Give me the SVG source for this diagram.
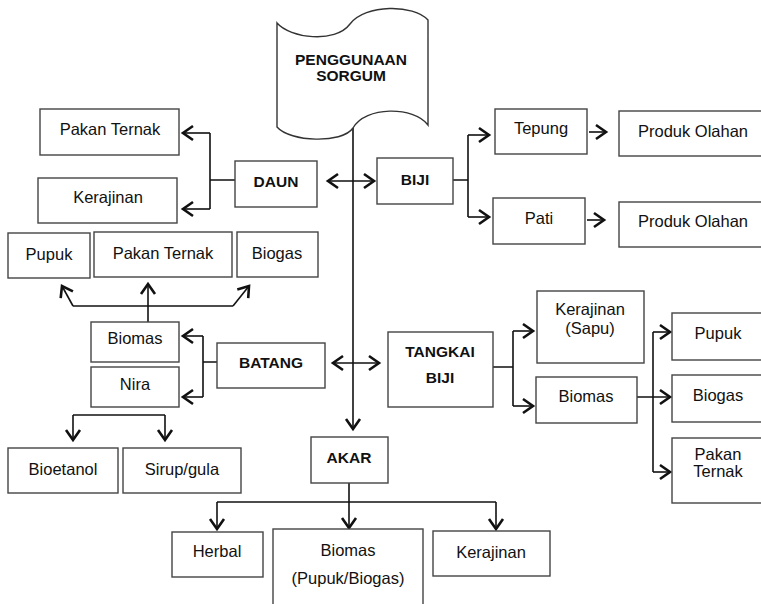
<svg xmlns="http://www.w3.org/2000/svg" width="761" height="604" viewBox="0 0 761 604">
<defs>
<style>
.box{fill:#fff;stroke:#444;stroke-width:1.4}
.t{font-family:"Liberation Sans",Arial,sans-serif;font-size:16.5px;fill:#111;text-anchor:middle}
.b{font-weight:bold;font-size:15.5px}
.ln{fill:none;stroke:#111;stroke-width:1.6}
</style>
<marker id="ah" markerUnits="userSpaceOnUse" markerWidth="16" markerHeight="18" refX="12" refY="9" orient="auto-start-reverse">
<path d="M2,2 L12,9 L2,16" fill="none" stroke="#111" stroke-width="2.6" stroke-linejoin="miter"/>
</marker>
</defs>
<rect width="761" height="604" fill="#fff"/>

<g id="connectors">
<path class="ln" d="M353,128 V429" marker-end="url(#ah)"/>
<path class="ln" d="M328,181 H374" marker-start="url(#ah)" marker-end="url(#ah)"/>
<path class="ln" d="M333,363 H379" marker-start="url(#ah)" marker-end="url(#ah)"/>
<path class="ln" d="M235,180 H210 M210,133 V209"/>
<path class="ln" d="M210,133 H183" marker-end="url(#ah)"/>
<path class="ln" d="M210,209 H183" marker-end="url(#ah)"/>
<path class="ln" d="M453,180 H468 M468,135 V217"/>
<path class="ln" d="M468,135 H489" marker-end="url(#ah)"/>
<path class="ln" d="M468,217 H489" marker-end="url(#ah)"/>
<path class="ln" d="M589,132 H606" marker-end="url(#ah)"/>
<path class="ln" d="M587,220 H604" marker-end="url(#ah)"/>
<path class="ln" d="M73,306 H233"/>
<path class="ln" d="M148,322 V284" marker-end="url(#ah)"/>
<path class="ln" d="M73,306 L62,286" marker-end="url(#ah)"/>
<path class="ln" d="M233,306 L249,286" marker-end="url(#ah)"/>
<path class="ln" d="M217,362 H203 M203,336 V397"/>
<path class="ln" d="M203,336 H183" marker-end="url(#ah)"/>
<path class="ln" d="M203,397 H183" marker-end="url(#ah)"/>
<path class="ln" d="M73,415 H165"/>
<path class="ln" d="M73,415 V440" marker-end="url(#ah)"/>
<path class="ln" d="M165,415 V440" marker-end="url(#ah)"/>
<path class="ln" d="M493,367 H513 M513,331 V406"/>
<path class="ln" d="M513,331 H533" marker-end="url(#ah)"/>
<path class="ln" d="M513,406 H533" marker-end="url(#ah)"/>
<path class="ln" d="M637,397 H670" marker-end="url(#ah)"/>
<path class="ln" d="M653,332 V472"/>
<path class="ln" d="M653,332 H670" marker-end="url(#ah)"/>
<path class="ln" d="M653,472 H670" marker-end="url(#ah)"/>
<path class="ln" d="M349,483 V528" marker-end="url(#ah)"/>
<path class="ln" d="M217,502 H496"/>
<path class="ln" d="M217,502 V529" marker-end="url(#ah)"/>
<path class="ln" d="M496,502 V529" marker-end="url(#ah)"/>
</g>

<g id="flag">
<path d="M277,23 C290,38 335,44 350,24 C365,4 414,4 428,20 L428,125 C414,106 365,106 353,128 C342,144 290,142 277,127 Z" fill="#fff" stroke="#333" stroke-width="1.4"/>
<text class="t b" x="351" y="65">PENGGUNAAN</text>
<text class="t b" x="351" y="81">SORGUM</text>
</g>

<g id="daun"><rect class="box" x="235" y="161" width="82" height="46"/><text class="t b" x="276" y="187">DAUN</text></g>
<g id="biji"><rect class="box" x="377" y="158" width="76" height="46"/><text class="t b" x="415" y="185">BIJI</text></g>
<g id="daun-pakan"><rect class="box" x="40" y="109" width="139" height="46"/><text class="t" x="110" y="135">Pakan Ternak</text></g>
<g id="daun-kerajinan"><rect class="box" x="38" y="178" width="139" height="45"/><text class="t" x="108" y="203">Kerajinan</text></g>
<g id="batang-pupuk"><rect class="box" x="8" y="233" width="82" height="45"/><text class="t" x="49" y="260">Pupuk</text></g>
<g id="batang-pakan"><rect class="box" x="94" y="232" width="138" height="45"/><text class="t" x="163" y="259">Pakan Ternak</text></g>
<g id="batang-biogas"><rect class="box" x="237" y="232" width="81" height="45"/><text class="t" x="277" y="259">Biogas</text></g>
<g id="batang-biomas"><rect class="box" x="91" y="322" width="88" height="40"/><text class="t" x="135" y="344">Biomas</text></g>
<g id="nira"><rect class="box" x="91" y="367" width="88" height="40"/><text class="t" x="135" y="390">Nira</text></g>
<g id="batang"><rect class="box" x="217" y="343" width="108" height="45"/><text class="t b" x="271" y="368">BATANG</text></g>
<g id="bioetanol"><rect class="box" x="8" y="448" width="110" height="45"/><text class="t" x="63" y="475">Bioetanol</text></g>
<g id="sirup"><rect class="box" x="123" y="448" width="118" height="45"/><text class="t" x="182" y="475">Sirup/gula</text></g>
<g id="tangkai"><rect class="box" x="388" y="332" width="105" height="75"/><text class="t b" x="440" y="357">TANGKAI</text><text class="t b" x="440" y="383">BIJI</text></g>
<g id="tangkai-kerajinan"><rect class="box" x="537" y="291" width="107" height="72"/><text class="t" x="590" y="315">Kerajinan</text><text class="t" x="590" y="334">(Sapu)</text></g>
<g id="tangkai-biomas"><rect class="box" x="536" y="377" width="101" height="46"/><text class="t" x="586" y="402">Biomas</text></g>
<g id="tb-pupuk"><rect class="box" x="672" y="313" width="100" height="47"/><text class="t" x="718" y="339">Pupuk</text></g>
<g id="tb-biogas"><rect class="box" x="672" y="375" width="100" height="47"/><text class="t" x="718" y="401">Biogas</text></g>
<g id="tb-pakan"><rect class="box" x="672" y="438" width="100" height="65"/><text class="t" x="718" y="460">Pakan</text><text class="t" x="718" y="477">Ternak</text></g>
<g id="tepung"><rect class="box" x="495" y="109" width="92" height="45"/><text class="t" x="541" y="134">Tepung</text></g>
<g id="produk1"><rect class="box" x="619" y="111" width="150" height="45"/><text class="t" x="693" y="137">Produk Olahan</text></g>
<g id="pati"><rect class="box" x="493" y="198" width="92" height="46"/><text class="t" x="539" y="224">Pati</text></g>
<g id="produk2"><rect class="box" x="619" y="202" width="150" height="45"/><text class="t" x="693" y="227">Produk Olahan</text></g>
<g id="akar"><rect class="box" x="311" y="437" width="77" height="46"/><text class="t b" x="349" y="463">AKAR</text></g>
<g id="herbal"><rect class="box" x="172" y="532" width="91" height="45"/><text class="t" x="217" y="557">Herbal</text></g>
<g id="akar-biomas"><rect class="box" x="273" y="529" width="150" height="90"/><text class="t" x="348" y="556">Biomas</text><text class="t" x="348" y="584">(Pupuk/Biogas)</text></g>
<g id="akar-kerajinan"><rect class="box" x="433" y="531" width="117" height="45"/><text class="t" x="491" y="558">Kerajinan</text></g>
</svg>
